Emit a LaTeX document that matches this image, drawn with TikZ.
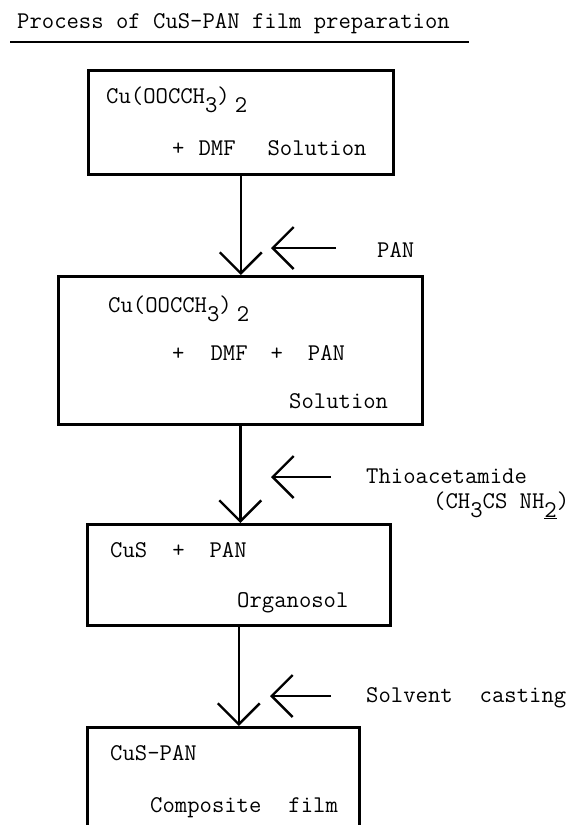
\documentclass[tikz,border=0pt]{standalone}
\usepackage{tikz}
\usetikzlibrary{arrows.meta}
\tikzstyle{box} = [rectangle, draw=black, line width=2.6pt, anchor=north west, inner sep=0pt]
\tikzstyle{txt} = [anchor=base west, inner sep=0pt, font=\fontsize{24}{28}\selectfont\ttfamily]
\tikzstyle{flow} = [draw, line width=2.4pt, -{Straight Barb[length=21pt,width=42pt]}]
\newcommand{\dn}[1]{\raisebox{-9pt}{#1}}

\begin{document}
\begin{tikzpicture}[x=1pt, y=-1pt]
        \useasboundingbox (0,0) rectangle (572,825);
        \fill [white] (0,0) rectangle (572,825);
        \clip (0,0) rectangle (572,825);

        \node (title) [txt] at (17,28) {Process of CuS-PAN film preparation};
        \draw [line width=2.2pt] (10,42) -- (469,42);

        % boxes
        \node (Sol) [box, minimum width=305pt, minimum height=104pt] at (87,69) {};
        \node (PanSol) [box, minimum width=364pt, minimum height=148pt] at (57,275) {};
        \node (Orga) [box, minimum width=303pt, minimum height=101pt] at (86,523) {};
        \node (Film) [box, minimum width=272pt, minimum height=150pt] at (86,726) {};

        \node (cu1) [txt] at (106,103) {Cu(OOCCH\dn{3})\hspace{5pt}\dn{2}};
        \node (mix1) [txt] at (172,155) {+\hspace{14pt}DMF\hspace{32pt}Solution};

        \node (cu2) [txt] at (108,312) {Cu(OOCCH\dn{3})\hspace{5pt}\dn{2}};
        \node (mix2) [txt] at (172,360) {+\hspace{26pt}DMF\hspace{23pt}+\hspace{25pt}PAN};
        \node (sol2) [txt] at (289,408) {Solution};

        \node (cus) [txt] at (110,557) {CuS\hspace{25pt}+\hspace{25pt}PAN};
        \node (organo) [txt] at (237,607) {Organosol};

        \node (cuspan) [txt] at (110,760) {CuS-PAN};
        \node (compo) [txt] at (150,812) {Composite\hspace{27pt}film};

        % side inputs
        \node (pan) [txt] at (377,257) {PAN};
        \node (thio) [txt] at (366,483) {Thioacetamide};
        \node (thiof) [txt] at (433,508) {(CH\dn{3}CS NH\dn{\underline{2}})};
        \node (solv) [txt] at (366,702) {Solvent\hspace{27pt}casting};

        \coordinate (t1) at (336,248);
        \coordinate (h1) at (271,248);
        \coordinate (t2) at (331,477);
        \coordinate (h2) at (271,477);
        \coordinate (t3) at (331,696);
        \coordinate (h3) at (270,696);

        \path [flow] (Sol.south) -- (Sol.south |- PanSol.north);
        \path [flow] (PanSol.south) -- (PanSol.south |- Orga.north);
        \path [flow] (Orga.south) -- (Orga.south |- Film.north);

        \path [flow] (t1) -- (h1);
        \path [flow] (t2) -- (h2);
        \path [flow] (t3) -- (h3);

    \end{tikzpicture}
\end{document}
